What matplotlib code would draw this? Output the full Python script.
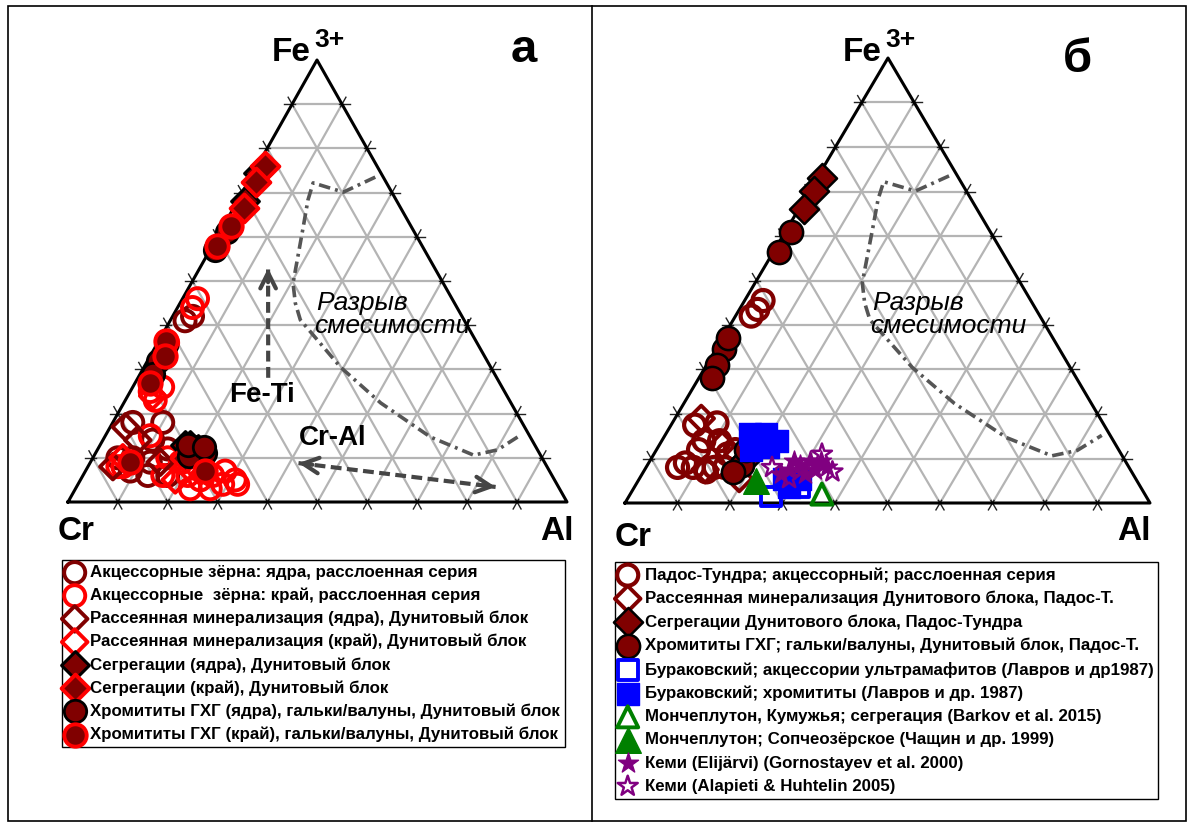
import numpy as np
import matplotlib.pyplot as plt
from matplotlib.patches import Rectangle

plt.rcParams['font.family'] = ['Liberation Sans', 'DejaVu Sans']

DARK = '#800000'
RED = '#ff0000'
GRID = '#b4b4b4'
ARROW = '#454545'

# ternary data, each point = [Cr, Al, Fe3+] (%)
# --- panel a ---
acc_core_a = [[54, 4, 42], [56, 3, 41], [78, 4, 18], [72, 10, 18], [76, 10, 14],
              [82, 8, 10], [81, 13, 6], [77, 17, 6], [84, 9, 7], [85, 5, 10],
              [79, 12, 9], [74, 14, 12]]
acc_rim_a = [[51, 3, 46], [53, 3, 44], [71, 6, 23], [71, 4, 25], [68, 6, 26],
             [76, 9, 15], [83, 8, 9], [85, 7, 8], [75, 15, 10], [73, 21, 6],
             [68, 26, 6], [64, 31, 5], [65, 28, 7], [74, 23, 3], [70, 27, 3],
             [73, 18, 9], [62, 2, 36], [64, 32, 4], [71, 24, 5], [67, 29, 4],
             [86, 6, 8], [78, 16, 6]]
dis_core_a = [[80, 3, 17], [79, 7, 14], [77, 14, 9], [87, 5, 8]]
dis_rim_a = [[84, 6, 10], [76, 19, 5], [70, 23, 7], [71, 5, 24]]
seg_core_a = [[24.5, 1, 74.5], [30.5, 1.5, 68], [69, 18, 13], [68, 20, 12],
              [70, 17, 13]]
seg_rim_a = [[22.5, 1.5, 76], [26, 1.5, 72.5], [31.5, 2, 66.5], [71.5, 18.5, 10]]
chr_core_a = [[37.5, 1.5, 61], [42, 1, 57], [62.5, 2, 35.5], [66, 2, 32],
              [68.5, 2.5, 29], [68.5, 19, 12.5], [68.5, 21.5, 10], [67, 22, 11],
              [70.5, 19, 10.5], [69.5, 17.5, 13], [66.5, 21, 12.5]]
chr_rim_a = [[36, 1.5, 62.5], [41, 1, 58], [62, 1.5, 36.5], [64, 3, 33],
             [70, 3, 27], [83, 8, 9], [69, 24, 7]]

# --- panel b ---
pados_acc = [[51, 3.5, 45.5], [53, 3.5, 43.5], [55, 3, 42], [78, 4.5, 17.5],
             [73.5, 8.5, 18], [80, 8, 12], [75, 11, 14], [83, 9, 8], [79, 13, 8],
             [75, 14, 11], [84, 7, 9], [78, 8, 14], [81, 12, 7], [77, 15, 8],
             [86, 6, 8], [73, 15, 12]]
pados_dis = [[76, 5, 19], [75, 12, 13], [81, 11.5, 7.5], [75.5, 19, 5.5]]
pados_seg = [[26, 1, 73], [29, 1, 70], [33, 1, 66], [72, 18, 10]]
pados_chr = [[38, 1, 61], [42.5, 1, 56.5], [64, 1.5, 34.5], [67, 2, 31],
             [69.5, 2.5, 28], [62, 1, 37], [73.5, 18, 8.5], [71, 17, 12],
             [76, 17, 7]]
burak_acc = [[71.5, 27, 1.5], [65, 31.5, 3.5]]
burak_chr = [[68.5, 16, 15.5], [65.5, 19, 15.5], [64, 22, 14], [70, 18, 12],
             [66.5, 21, 12.5], [67, 27.5, 5.5], [64, 30.5, 5.5], [67, 29.5, 3.5]]
monche_kum = [[61.5, 36.5, 2]]
monche_sop = [[72.5, 22.5, 5]]
kemi_eli = [[65, 27.5, 7.5], [62.5, 29, 8.5], [60, 30.5, 9.5], [58, 32.5, 9.5],
            [62.5, 31, 6.5], [67, 26.5, 6.5], [60, 32.5, 7.5], [57.5, 34.5, 8],
            [63, 27.5, 9.5]]
kemi_ala = [[68, 24, 8], [66, 28.5, 5.5], [57, 32, 11], [57, 36, 7]]

# miscibility gap outline and trend arrows, [Cr, Al, Fe3+]
gap = [[1.6, 24.9, 73.5], [9.7, 20.2, 70.1], [14.7, 13.1, 72.2], [17.7, 14.0, 68.3],
       [21.7, 16.1, 62.2], [30.1, 20.4, 49.5], [31.9, 23.1, 45.0], [32.8, 26.0, 41.2],
       [30.1, 39.4, 30.5], [26.1, 51.5, 22.4], [20.0, 65.3, 14.7], [13.4, 76.0, 10.6],
       [8.0, 80.2, 11.8], [1.6, 83.2, 15.2]]
fe_ti = [[45.8, 26.1, 28.1], [33.4, 13.7, 52.9]]
cr_al = [[49.4, 41.8, 8.8], [12.6, 84.0, 3.4]]

labels_a = ['Акцессорные зёрна: ядра, расслоенная серия',
            'Акцессорные  зёрна: край, расслоенная серия',
            'Рассеянная минерализация (ядра), Дунитовый блок',
            'Рассеянная минерализация (край), Дунитовый блок',
            'Сегрегации (ядра), Дунитовый блок',
            'Сегрегации (край), Дунитовый блок',
            'Хромититы ГХГ (ядра), гальки/валуны, Дунитовый блок',
            'Хромититы ГХГ (край), гальки/валуны, Дунитовый блок']
labels_b = ['Падос-Тундра; акцессорный; расслоенная серия',
            'Рассеянная минерализация Дунитового блока, Падос-Т.',
            'Сегрегации Дунитового блока, Падос-Тундра',
            'Хромититы ГХГ; гальки/валуны, Дунитовый блок, Падос-Т.',
            'Бураковский; акцессории ультрамафитов (Лавров и др1987)',
            'Бураковский; хромититы (Лавров и др. 1987)',
            'Мончеплутон, Кумужья; сегрегация (Barkov et al. 2015)',
            'Мончеплутон; Сопчеозёрское (Чащин и др. 1999)',
            'Кеми (Elijärvi) (Gornostayev et al. 2000)',
            'Кеми (Alapieti & Huhtelin 2005)']

# triangle corners in image pixels: Cr, Al, Fe3+
CORNERS = {'a': np.array([[68, 502], [567, 502], [317, 60]], float),
           'b': np.array([[625, 503], [1150, 503], [888, 58]], float)}


def tern(pts, panel):
    pts = np.asarray(pts, float)
    pts = pts / pts.sum(axis=1, keepdims=True)
    return pts @ CORNERS[panel]


fig = plt.figure(figsize=(11.98, 8.25), dpi=100)
ax = fig.add_axes([0, 0, 1, 1])
ax.set_xlim(0, 1198)
ax.set_ylim(825, 0)
ax.axis('off')

# table frame
ax.add_patch(Rectangle((8, 6), 1178, 815, fill=False, lw=1.2, ec='black'))
ax.plot([592, 592], [6, 821], color='black', lw=1.2)


def draw_frame(panel):
    for k in range(1, 10):
        f = k / 10
        lines = [([1 - f, 0, f], [0, 1 - f, f]),
                 ([1 - f, f, 0], [0, f, 1 - f]),
                 ([f, 1 - f, 0], [f, 0, 1 - f])]
        for a, b in lines:
            p = tern([a, b], panel)
            ax.plot(p[:, 0], p[:, 1], color=GRID, lw=1.6, zorder=1)
            # small ticks outside the edges
            for p0, p1 in ((p[0], p[1]), (p[1], p[0])):
                d = (p0 - p1) / np.hypot(*(p0 - p1))
                q = np.array([p0 - d * 3, p0 + d * 8])
                ax.plot(q[:, 0], q[:, 1], color='#222222', lw=1, zorder=2)
    c = CORNERS[panel]
    c = np.vstack([c, c[:1]])
    ax.plot(c[:, 0], c[:, 1], color='black', lw=2.2, zorder=2)
    g = tern(gap, panel)
    ax.plot(g[:, 0], g[:, 1], color='#555555', lw=2.6,
            ls=(0, (3.2, 1.4, 0.8, 1.4)), zorder=2)


draw_frame('a')
draw_frame('b')


def pts(ax, data, panel, **kw):
    p = tern(data, panel)
    return ax.scatter(p[:, 0], p[:, 1], zorder=3, **kw)


# panel a points
h_a = [
    pts(ax, acc_core_a, 'a', marker='o', s=230, fc='none', ec=DARK, lw=2.8),
    pts(ax, acc_rim_a, 'a', marker='o', s=230, fc='none', ec=RED, lw=2.8),
    pts(ax, dis_core_a, 'a', marker='D', s=170, fc='none', ec=DARK, lw=2.8),
    pts(ax, dis_rim_a, 'a', marker='D', s=170, fc='none', ec=RED, lw=2.8),
    pts(ax, seg_core_a, 'a', marker='D', s=200, fc=DARK, ec='black', lw=2.2),
    pts(ax, seg_rim_a, 'a', marker='D', s=200, fc=DARK, ec=RED, lw=2.8),
    pts(ax, chr_core_a, 'a', marker='o', s=260, fc=DARK, ec='black', lw=2),
    pts(ax, chr_rim_a, 'a', marker='o', s=260, fc=DARK, ec=RED, lw=2.8),
]

# panel b points
h_b = [
    pts(ax, pados_acc, 'b', marker='o', s=230, fc='none', ec=DARK, lw=3),
    pts(ax, pados_dis, 'b', marker='D', s=170, fc='none', ec=DARK, lw=2.8),
    pts(ax, pados_seg, 'b', marker='D', s=220, fc=DARK, ec='black', lw=1.8),
    pts(ax, pados_chr, 'b', marker='o', s=280, fc=DARK, ec='black', lw=1.8),
    pts(ax, burak_acc, 'b', marker='s', s=200, fc='none', ec='blue', lw=2.8),
    pts(ax, burak_chr, 'b', marker='s', s=260, fc='blue', ec='blue', lw=1),
    pts(ax, monche_kum, 'b', marker='^', s=230, fc='none', ec='green', lw=2.8),
    pts(ax, monche_sop, 'b', marker='^', s=340, fc='green', ec='green', lw=1),
    pts(ax, kemi_eli, 'b', marker='*', s=230, fc='purple', ec='purple', lw=1),
    pts(ax, kemi_ala, 'b', marker='*', s=230, fc='none', ec='purple', lw=1.8),
]

# trend arrows (panel a)
def trend(seg, both):
    p = tern(seg, 'a')
    ax.plot(p[:, 0], p[:, 1], color=ARROW, lw=3, ls=(0, (2.6, 1.3)), zorder=4)
    ends = [(p[1], p[0])] + ([(p[0], p[1])] if both else [])
    for tip, base in ends:
        d = (tip - base) / np.hypot(*(tip - base))
        ax.annotate('', xy=tip, xytext=tip - d * 14,
                    arrowprops=dict(arrowstyle='->', lw=3, color=ARROW,
                                    mutation_scale=28, shrinkA=0, shrinkB=0),
                    zorder=4)


trend(fe_ti, False)
trend(cr_al, True)

ax.text(262, 395, 'Fe-Ti', fontsize=20, weight='bold', ha='center', va='center')
ax.text(333, 438, 'Cr-Al', fontsize=20, weight='bold', ha='center', va='center')
for x0 in (316, 872):
    ax.text(x0, 310, 'Разрыв', fontsize=19, style='italic', va='baseline')
    ax.text(x0 - 2, 333, 'смесимости', fontsize=19, style='italic', va='baseline')

# corner labels
for dx in (0, 571):
    ax.text(311 + dx, 61, 'Fe', fontsize=24, weight='bold', ha='right', va='baseline')
    ax.text(314 + dx, 47, '3+', fontsize=19, weight='bold', ha='left', va='baseline')
ax.text(76, 532, 'Cr', fontsize=24, weight='bold', ha='center', va='center')
ax.text(557, 532, 'Al', fontsize=24, weight='bold', ha='center', va='center')
ax.text(633, 537, 'Cr', fontsize=24, weight='bold', ha='center', va='center')
ax.text(1134, 532, 'Al', fontsize=24, weight='bold', ha='center', va='center')
ax.text(524, 50, 'а', fontsize=34, weight='bold', ha='center', va='center')
ax.text(1077, 60, 'б', fontsize=34, weight='bold', ha='center', va='center')

# legends
W, H = 1198, 825
fig.legend(h_a, labels_a, loc='upper left', bbox_to_anchor=(62 / W, 1 - 560 / H),
           borderaxespad=0, fancybox=False, edgecolor='black', framealpha=1,
           borderpad=0.3, handlelength=0.9, handletextpad=0.45, labelspacing=0.45,
           scatterpoints=1, prop=dict(size=12.2, weight='bold'))
fig.legend(h_b, labels_b, loc='upper left', bbox_to_anchor=(615 / W, 1 - 562 / H),
           borderaxespad=0, fancybox=False, edgecolor='black', framealpha=1,
           borderpad=0.3, handlelength=0.9, handletextpad=0.55, labelspacing=0.48,
           scatterpoints=1, prop=dict(size=12.2, weight='bold'))

fig.savefig('out.png', dpi=100)
